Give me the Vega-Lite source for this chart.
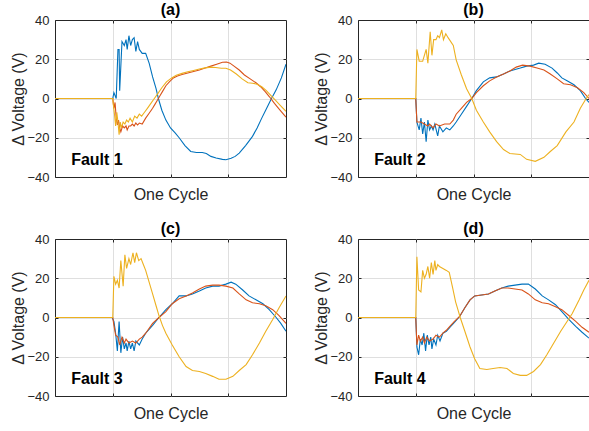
{
"$schema": "https://vega.github.io/schema/vega-lite/v6.json",
"padding": {"left": 10, "top": 1, "right": 0, "bottom": 0},
"background": "white",
"data": {"values": [
{"panel":"(a)","label":"Fault 1"},
{"panel":"(b)","label":"Fault 2"},
{"panel":"(c)","label":"Fault 3"},
{"panel":"(d)","label":"Fault 4"},
{"panel":"(a)","series":"A","x":0,"y":0},{"panel":"(a)","series":"A","x":1,"y":0},{"panel":"(a)","series":"A","x":1.02,"y":3},{"panel":"(a)","series":"A","x":1.06,"y":0},{"panel":"(a)","series":"A","x":1.09,"y":25},{"panel":"(a)","series":"A","x":1.11,"y":25},{"panel":"(a)","series":"A","x":1.12,"y":4},{"panel":"(a)","series":"A","x":1.16,"y":29},{"panel":"(a)","series":"A","x":1.2,"y":27},{"panel":"(a)","series":"A","x":1.23,"y":30},{"panel":"(a)","series":"A","x":1.25,"y":25},{"panel":"(a)","series":"A","x":1.28,"y":32},{"panel":"(a)","series":"A","x":1.31,"y":27},{"panel":"(a)","series":"A","x":1.34,"y":30},{"panel":"(a)","series":"A","x":1.37,"y":31},{"panel":"(a)","series":"A","x":1.4,"y":24},{"panel":"(a)","series":"A","x":1.43,"y":29},{"panel":"(a)","series":"A","x":1.46,"y":25},{"panel":"(a)","series":"A","x":1.51,"y":23},{"panel":"(a)","series":"A","x":1.57,"y":23},{"panel":"(a)","series":"A","x":1.63,"y":18},{"panel":"(a)","series":"A","x":1.69,"y":11},{"panel":"(a)","series":"A","x":1.75,"y":5},{"panel":"(a)","series":"A","x":1.79,"y":0},{"panel":"(a)","series":"A","x":1.85,"y":-6},{"panel":"(a)","series":"A","x":1.92,"y":-11},{"panel":"(a)","series":"A","x":2,"y":-15},{"panel":"(a)","series":"A","x":2.08,"y":-17.5},{"panel":"(a)","series":"A","x":2.15,"y":-20},{"panel":"(a)","series":"A","x":2.25,"y":-24},{"panel":"(a)","series":"A","x":2.35,"y":-27},{"panel":"(a)","series":"A","x":2.45,"y":-27.5},{"panel":"(a)","series":"A","x":2.55,"y":-27.5},{"panel":"(a)","series":"A","x":2.62,"y":-28},{"panel":"(a)","series":"A","x":2.7,"y":-29.5},{"panel":"(a)","series":"A","x":2.79,"y":-30.3},{"panel":"(a)","series":"A","x":2.9,"y":-31},{"panel":"(a)","series":"A","x":2.96,"y":-31.2},{"panel":"(a)","series":"A","x":3.05,"y":-30.5},{"panel":"(a)","series":"A","x":3.12,"y":-29.5},{"panel":"(a)","series":"A","x":3.19,"y":-27.8},{"panel":"(a)","series":"A","x":3.3,"y":-24},{"panel":"(a)","series":"A","x":3.42,"y":-19.3},{"panel":"(a)","series":"A","x":3.5,"y":-15},{"panel":"(a)","series":"A","x":3.58,"y":-10},{"panel":"(a)","series":"A","x":3.65,"y":-5.8},{"panel":"(a)","series":"A","x":3.74,"y":-0.5},{"panel":"(a)","series":"A","x":3.83,"y":4.4},{"panel":"(a)","series":"A","x":3.92,"y":10.5},{"panel":"(a)","series":"A","x":4,"y":17.5},
{"panel":"(a)","series":"B","x":0,"y":0},{"panel":"(a)","series":"B","x":1,"y":0},{"panel":"(a)","series":"B","x":1.02,"y":-5},{"panel":"(a)","series":"B","x":1.04,"y":-2},{"panel":"(a)","series":"B","x":1.06,"y":-10},{"panel":"(a)","series":"B","x":1.08,"y":-13.5},{"panel":"(a)","series":"B","x":1.1,"y":-11},{"panel":"(a)","series":"B","x":1.12,"y":-15},{"panel":"(a)","series":"B","x":1.14,"y":-17},{"panel":"(a)","series":"B","x":1.17,"y":-14},{"panel":"(a)","series":"B","x":1.2,"y":-15},{"panel":"(a)","series":"B","x":1.23,"y":-14},{"panel":"(a)","series":"B","x":1.25,"y":-16},{"panel":"(a)","series":"B","x":1.28,"y":-14},{"panel":"(a)","series":"B","x":1.31,"y":-14},{"panel":"(a)","series":"B","x":1.34,"y":-13},{"panel":"(a)","series":"B","x":1.37,"y":-14},{"panel":"(a)","series":"B","x":1.4,"y":-12.5},{"panel":"(a)","series":"B","x":1.43,"y":-13.5},{"panel":"(a)","series":"B","x":1.46,"y":-12.5},{"panel":"(a)","series":"B","x":1.51,"y":-13},{"panel":"(a)","series":"B","x":1.57,"y":-10},{"panel":"(a)","series":"B","x":1.63,"y":-7.5},{"panel":"(a)","series":"B","x":1.69,"y":-5},{"panel":"(a)","series":"B","x":1.73,"y":-3},{"panel":"(a)","series":"B","x":1.77,"y":-1},{"panel":"(a)","series":"B","x":1.82,"y":1.5},{"panel":"(a)","series":"B","x":1.86,"y":3.5},{"panel":"(a)","series":"B","x":1.92,"y":6.5},{"panel":"(a)","series":"B","x":1.98,"y":8.5},{"panel":"(a)","series":"B","x":2.05,"y":10.5},{"panel":"(a)","series":"B","x":2.12,"y":11.5},{"panel":"(a)","series":"B","x":2.2,"y":12.2},{"panel":"(a)","series":"B","x":2.3,"y":13},{"panel":"(a)","series":"B","x":2.4,"y":13.8},{"panel":"(a)","series":"B","x":2.5,"y":14.5},{"panel":"(a)","series":"B","x":2.6,"y":15.5},{"panel":"(a)","series":"B","x":2.7,"y":16.5},{"panel":"(a)","series":"B","x":2.8,"y":17.5},{"panel":"(a)","series":"B","x":2.9,"y":18.5},{"panel":"(a)","series":"B","x":2.97,"y":18.6},{"panel":"(a)","series":"B","x":3.03,"y":18},{"panel":"(a)","series":"B","x":3.1,"y":16.5},{"panel":"(a)","series":"B","x":3.19,"y":14.5},{"panel":"(a)","series":"B","x":3.28,"y":12},{"panel":"(a)","series":"B","x":3.38,"y":10},{"panel":"(a)","series":"B","x":3.48,"y":8},{"panel":"(a)","series":"B","x":3.56,"y":6},{"panel":"(a)","series":"B","x":3.64,"y":3.5},{"panel":"(a)","series":"B","x":3.71,"y":1},{"panel":"(a)","series":"B","x":3.8,"y":-2.5},{"panel":"(a)","series":"B","x":3.9,"y":-6},{"panel":"(a)","series":"B","x":4,"y":-9.5},
{"panel":"(a)","series":"C","x":0,"y":0},{"panel":"(a)","series":"C","x":1,"y":0},{"panel":"(a)","series":"C","x":1.01,"y":-3},{"panel":"(a)","series":"C","x":1.03,"y":-8},{"panel":"(a)","series":"C","x":1.05,"y":-14},{"panel":"(a)","series":"C","x":1.07,"y":-7},{"panel":"(a)","series":"C","x":1.09,"y":-12},{"panel":"(a)","series":"C","x":1.11,"y":-18.5},{"panel":"(a)","series":"C","x":1.13,"y":-12},{"panel":"(a)","series":"C","x":1.15,"y":-15},{"panel":"(a)","series":"C","x":1.18,"y":-12},{"panel":"(a)","series":"C","x":1.21,"y":-13},{"panel":"(a)","series":"C","x":1.24,"y":-11},{"panel":"(a)","series":"C","x":1.27,"y":-12},{"panel":"(a)","series":"C","x":1.3,"y":-10},{"panel":"(a)","series":"C","x":1.34,"y":-12},{"panel":"(a)","series":"C","x":1.38,"y":-9},{"panel":"(a)","series":"C","x":1.42,"y":-10},{"panel":"(a)","series":"C","x":1.46,"y":-8},{"panel":"(a)","series":"C","x":1.5,"y":-9},{"panel":"(a)","series":"C","x":1.55,"y":-7},{"panel":"(a)","series":"C","x":1.6,"y":-5},{"panel":"(a)","series":"C","x":1.66,"y":-2.5},{"panel":"(a)","series":"C","x":1.72,"y":0},{"panel":"(a)","series":"C","x":1.78,"y":2.5},{"panel":"(a)","series":"C","x":1.85,"y":5.5},{"panel":"(a)","series":"C","x":1.93,"y":8.5},{"panel":"(a)","series":"C","x":2.02,"y":10.5},{"panel":"(a)","series":"C","x":2.1,"y":11.8},{"panel":"(a)","series":"C","x":2.2,"y":12.8},{"panel":"(a)","series":"C","x":2.3,"y":13.6},{"panel":"(a)","series":"C","x":2.4,"y":14.3},{"panel":"(a)","series":"C","x":2.5,"y":15},{"panel":"(a)","series":"C","x":2.6,"y":15.6},{"panel":"(a)","series":"C","x":2.7,"y":16},{"panel":"(a)","series":"C","x":2.78,"y":15.8},{"panel":"(a)","series":"C","x":2.88,"y":15.4},{"panel":"(a)","series":"C","x":2.96,"y":15.4},{"panel":"(a)","series":"C","x":3.04,"y":14.5},{"panel":"(a)","series":"C","x":3.14,"y":12.5},{"panel":"(a)","series":"C","x":3.24,"y":10},{"panel":"(a)","series":"C","x":3.34,"y":8},{"panel":"(a)","series":"C","x":3.42,"y":7.8},{"panel":"(a)","series":"C","x":3.5,"y":7.3},{"panel":"(a)","series":"C","x":3.58,"y":6},{"panel":"(a)","series":"C","x":3.66,"y":4},{"panel":"(a)","series":"C","x":3.74,"y":1.5},{"panel":"(a)","series":"C","x":3.82,"y":-1},{"panel":"(a)","series":"C","x":3.9,"y":-3.5},{"panel":"(a)","series":"C","x":4,"y":-6.5},
{"panel":"(b)","series":"A","x":0,"y":0},{"panel":"(b)","series":"A","x":1,"y":0},{"panel":"(b)","series":"A","x":1.02,"y":-12},{"panel":"(b)","series":"A","x":1.06,"y":-16},{"panel":"(b)","series":"A","x":1.09,"y":-10},{"panel":"(b)","series":"A","x":1.12,"y":-18},{"panel":"(b)","series":"A","x":1.15,"y":-12},{"panel":"(b)","series":"A","x":1.18,"y":-22},{"panel":"(b)","series":"A","x":1.21,"y":-11},{"panel":"(b)","series":"A","x":1.24,"y":-16},{"panel":"(b)","series":"A","x":1.27,"y":-14},{"panel":"(b)","series":"A","x":1.3,"y":-16},{"panel":"(b)","series":"A","x":1.33,"y":-13},{"panel":"(b)","series":"A","x":1.38,"y":-19},{"panel":"(b)","series":"A","x":1.41,"y":-14},{"panel":"(b)","series":"A","x":1.47,"y":-17},{"panel":"(b)","series":"A","x":1.53,"y":-15},{"panel":"(b)","series":"A","x":1.59,"y":-16},{"panel":"(b)","series":"A","x":1.65,"y":-14},{"panel":"(b)","series":"A","x":1.7,"y":-12},{"panel":"(b)","series":"A","x":1.79,"y":-8},{"panel":"(b)","series":"A","x":1.88,"y":-4},{"panel":"(b)","series":"A","x":1.97,"y":0},{"panel":"(b)","series":"A","x":2.05,"y":4},{"panel":"(b)","series":"A","x":2.17,"y":8.5},{"panel":"(b)","series":"A","x":2.28,"y":10.5},{"panel":"(b)","series":"A","x":2.4,"y":11},{"panel":"(b)","series":"A","x":2.52,"y":12.5},{"panel":"(b)","series":"A","x":2.63,"y":14},{"panel":"(b)","series":"A","x":2.81,"y":15.5},{"panel":"(b)","series":"A","x":2.92,"y":16.5},{"panel":"(b)","series":"A","x":3.04,"y":17},{"panel":"(b)","series":"A","x":3.13,"y":18},{"panel":"(b)","series":"A","x":3.24,"y":17.5},{"panel":"(b)","series":"A","x":3.36,"y":15.5},{"panel":"(b)","series":"A","x":3.45,"y":13},{"panel":"(b)","series":"A","x":3.53,"y":10.5},{"panel":"(b)","series":"A","x":3.62,"y":9},{"panel":"(b)","series":"A","x":3.74,"y":7},{"panel":"(b)","series":"A","x":3.85,"y":4},{"panel":"(b)","series":"A","x":3.94,"y":0},{"panel":"(b)","series":"A","x":4,"y":-2},
{"panel":"(b)","series":"B","x":0,"y":0},{"panel":"(b)","series":"B","x":1,"y":0},{"panel":"(b)","series":"B","x":1.02,"y":-12},{"panel":"(b)","series":"B","x":1.09,"y":-12},{"panel":"(b)","series":"B","x":1.15,"y":-13},{"panel":"(b)","series":"B","x":1.21,"y":-14},{"panel":"(b)","series":"B","x":1.24,"y":-13},{"panel":"(b)","series":"B","x":1.3,"y":-15},{"panel":"(b)","series":"B","x":1.35,"y":-13},{"panel":"(b)","series":"B","x":1.41,"y":-14},{"panel":"(b)","series":"B","x":1.5,"y":-13},{"panel":"(b)","series":"B","x":1.59,"y":-13},{"panel":"(b)","series":"B","x":1.65,"y":-11},{"panel":"(b)","series":"B","x":1.7,"y":-8},{"panel":"(b)","series":"B","x":1.79,"y":-5},{"panel":"(b)","series":"B","x":1.88,"y":-2},{"panel":"(b)","series":"B","x":1.97,"y":0},{"panel":"(b)","series":"B","x":2.05,"y":3},{"panel":"(b)","series":"B","x":2.17,"y":6.5},{"panel":"(b)","series":"B","x":2.28,"y":9},{"panel":"(b)","series":"B","x":2.4,"y":11},{"panel":"(b)","series":"B","x":2.52,"y":12.5},{"panel":"(b)","series":"B","x":2.63,"y":14},{"panel":"(b)","series":"B","x":2.74,"y":16},{"panel":"(b)","series":"B","x":2.85,"y":17},{"panel":"(b)","series":"B","x":2.98,"y":16.5},{"panel":"(b)","series":"B","x":3.1,"y":15.5},{"panel":"(b)","series":"B","x":3.22,"y":14.5},{"panel":"(b)","series":"B","x":3.33,"y":12.5},{"panel":"(b)","series":"B","x":3.45,"y":10},{"panel":"(b)","series":"B","x":3.56,"y":7.5},{"panel":"(b)","series":"B","x":3.68,"y":7},{"panel":"(b)","series":"B","x":3.8,"y":5.5},{"panel":"(b)","series":"B","x":3.91,"y":3},{"panel":"(b)","series":"B","x":4,"y":0},
{"panel":"(b)","series":"C","x":0,"y":0},{"panel":"(b)","series":"C","x":1,"y":0},{"panel":"(b)","series":"C","x":1.02,"y":25},{"panel":"(b)","series":"C","x":1.06,"y":19},{"panel":"(b)","series":"C","x":1.12,"y":19},{"panel":"(b)","series":"C","x":1.18,"y":25},{"panel":"(b)","series":"C","x":1.21,"y":18},{"panel":"(b)","series":"C","x":1.25,"y":34},{"panel":"(b)","series":"C","x":1.28,"y":22},{"panel":"(b)","series":"C","x":1.31,"y":30},{"panel":"(b)","series":"C","x":1.35,"y":30},{"panel":"(b)","series":"C","x":1.38,"y":32},{"panel":"(b)","series":"C","x":1.41,"y":31},{"panel":"(b)","series":"C","x":1.45,"y":35},{"panel":"(b)","series":"C","x":1.48,"y":30},{"panel":"(b)","series":"C","x":1.52,"y":33},{"panel":"(b)","series":"C","x":1.56,"y":31},{"panel":"(b)","series":"C","x":1.65,"y":27},{"panel":"(b)","series":"C","x":1.7,"y":19.7},{"panel":"(b)","series":"C","x":1.79,"y":12},{"panel":"(b)","series":"C","x":1.88,"y":5},{"panel":"(b)","series":"C","x":1.97,"y":0},{"panel":"(b)","series":"C","x":2.05,"y":-6},{"panel":"(b)","series":"C","x":2.17,"y":-12},{"panel":"(b)","series":"C","x":2.28,"y":-17},{"panel":"(b)","series":"C","x":2.4,"y":-22},{"panel":"(b)","series":"C","x":2.52,"y":-26},{"panel":"(b)","series":"C","x":2.63,"y":-28},{"panel":"(b)","series":"C","x":2.81,"y":-28.5},{"panel":"(b)","series":"C","x":2.92,"y":-31},{"panel":"(b)","series":"C","x":3.07,"y":-32},{"panel":"(b)","series":"C","x":3.22,"y":-30},{"panel":"(b)","series":"C","x":3.33,"y":-27},{"panel":"(b)","series":"C","x":3.45,"y":-24},{"panel":"(b)","series":"C","x":3.6,"y":-17},{"panel":"(b)","series":"C","x":3.74,"y":-12},{"panel":"(b)","series":"C","x":3.85,"y":-5},{"panel":"(b)","series":"C","x":3.93,"y":-1},{"panel":"(b)","series":"C","x":4,"y":2},
{"panel":"(c)","series":"A","x":0,"y":0},{"panel":"(c)","series":"A","x":0.99,"y":0},{"panel":"(c)","series":"A","x":1.02,"y":-2},{"panel":"(c)","series":"A","x":1.05,"y":-8},{"panel":"(c)","series":"A","x":1.08,"y":-17},{"panel":"(c)","series":"A","x":1.11,"y":-2},{"panel":"(c)","series":"A","x":1.14,"y":-18},{"panel":"(c)","series":"A","x":1.17,"y":-10},{"panel":"(c)","series":"A","x":1.2,"y":-16},{"panel":"(c)","series":"A","x":1.23,"y":-13},{"panel":"(c)","series":"A","x":1.25,"y":-17},{"panel":"(c)","series":"A","x":1.28,"y":-12},{"panel":"(c)","series":"A","x":1.31,"y":-16},{"panel":"(c)","series":"A","x":1.34,"y":-13},{"panel":"(c)","series":"A","x":1.37,"y":-17},{"panel":"(c)","series":"A","x":1.4,"y":-12},{"panel":"(c)","series":"A","x":1.46,"y":-14},{"panel":"(c)","series":"A","x":1.51,"y":-11},{"panel":"(c)","series":"A","x":1.57,"y":-8},{"panel":"(c)","series":"A","x":1.69,"y":-4},{"panel":"(c)","series":"A","x":1.8,"y":0},{"panel":"(c)","series":"A","x":1.92,"y":4},{"panel":"(c)","series":"A","x":2.03,"y":7},{"panel":"(c)","series":"A","x":2.15,"y":11},{"panel":"(c)","series":"A","x":2.27,"y":11},{"panel":"(c)","series":"A","x":2.38,"y":12},{"panel":"(c)","series":"A","x":2.5,"y":13.5},{"panel":"(c)","series":"A","x":2.61,"y":15},{"panel":"(c)","series":"A","x":2.73,"y":16},{"panel":"(c)","series":"A","x":2.84,"y":16},{"panel":"(c)","series":"A","x":2.96,"y":17},{"panel":"(c)","series":"A","x":3.05,"y":18},{"panel":"(c)","series":"A","x":3.13,"y":17},{"panel":"(c)","series":"A","x":3.25,"y":14},{"panel":"(c)","series":"A","x":3.36,"y":11},{"panel":"(c)","series":"A","x":3.48,"y":9},{"panel":"(c)","series":"A","x":3.6,"y":7},{"panel":"(c)","series":"A","x":3.71,"y":4},{"panel":"(c)","series":"A","x":3.83,"y":0},{"panel":"(c)","series":"A","x":3.91,"y":-3},{"panel":"(c)","series":"A","x":4,"y":-7},
{"panel":"(c)","series":"B","x":0,"y":0},{"panel":"(c)","series":"B","x":1,"y":0},{"panel":"(c)","series":"B","x":1.02,"y":-4},{"panel":"(c)","series":"B","x":1.05,"y":-9},{"panel":"(c)","series":"B","x":1.09,"y":-10},{"panel":"(c)","series":"B","x":1.12,"y":-14},{"panel":"(c)","series":"B","x":1.16,"y":-10},{"panel":"(c)","series":"B","x":1.2,"y":-13},{"panel":"(c)","series":"B","x":1.23,"y":-11},{"panel":"(c)","series":"B","x":1.28,"y":-13},{"panel":"(c)","series":"B","x":1.34,"y":-12},{"panel":"(c)","series":"B","x":1.4,"y":-13},{"panel":"(c)","series":"B","x":1.46,"y":-11},{"panel":"(c)","series":"B","x":1.51,"y":-10},{"panel":"(c)","series":"B","x":1.57,"y":-8},{"panel":"(c)","series":"B","x":1.69,"y":-3},{"panel":"(c)","series":"B","x":1.8,"y":0},{"panel":"(c)","series":"B","x":1.92,"y":3},{"panel":"(c)","series":"B","x":2.03,"y":7},{"panel":"(c)","series":"B","x":2.15,"y":9.5},{"panel":"(c)","series":"B","x":2.27,"y":11},{"panel":"(c)","series":"B","x":2.38,"y":12.5},{"panel":"(c)","series":"B","x":2.5,"y":14.5},{"panel":"(c)","series":"B","x":2.61,"y":16},{"panel":"(c)","series":"B","x":2.73,"y":16.5},{"panel":"(c)","series":"B","x":2.84,"y":16.5},{"panel":"(c)","series":"B","x":2.96,"y":16},{"panel":"(c)","series":"B","x":3.08,"y":15},{"panel":"(c)","series":"B","x":3.19,"y":12},{"panel":"(c)","series":"B","x":3.31,"y":9},{"panel":"(c)","series":"B","x":3.42,"y":7.5},{"panel":"(c)","series":"B","x":3.54,"y":7},{"panel":"(c)","series":"B","x":3.65,"y":6},{"panel":"(c)","series":"B","x":3.77,"y":4},{"panel":"(c)","series":"B","x":3.88,"y":1},{"panel":"(c)","series":"B","x":4,"y":-3},
{"panel":"(c)","series":"C","x":0,"y":0},{"panel":"(c)","series":"C","x":1,"y":0},{"panel":"(c)","series":"C","x":1.02,"y":21},{"panel":"(c)","series":"C","x":1.05,"y":17},{"panel":"(c)","series":"C","x":1.08,"y":19},{"panel":"(c)","series":"C","x":1.11,"y":15},{"panel":"(c)","series":"C","x":1.14,"y":29},{"panel":"(c)","series":"C","x":1.18,"y":16},{"panel":"(c)","series":"C","x":1.21,"y":32},{"panel":"(c)","series":"C","x":1.24,"y":25},{"panel":"(c)","series":"C","x":1.28,"y":30},{"panel":"(c)","series":"C","x":1.31,"y":27},{"panel":"(c)","series":"C","x":1.35,"y":33},{"panel":"(c)","series":"C","x":1.38,"y":28},{"panel":"(c)","series":"C","x":1.41,"y":33},{"panel":"(c)","series":"C","x":1.45,"y":29},{"panel":"(c)","series":"C","x":1.49,"y":30},{"panel":"(c)","series":"C","x":1.53,"y":27},{"panel":"(c)","series":"C","x":1.57,"y":24},{"panel":"(c)","series":"C","x":1.63,"y":18},{"panel":"(c)","series":"C","x":1.69,"y":12},{"panel":"(c)","series":"C","x":1.75,"y":6},{"panel":"(c)","series":"C","x":1.8,"y":1},{"panel":"(c)","series":"C","x":1.86,"y":-4},{"panel":"(c)","series":"C","x":1.92,"y":-8},{"panel":"(c)","series":"C","x":2.03,"y":-14},{"panel":"(c)","series":"C","x":2.15,"y":-20},{"panel":"(c)","series":"C","x":2.27,"y":-25},{"panel":"(c)","series":"C","x":2.38,"y":-27},{"panel":"(c)","series":"C","x":2.5,"y":-27.5},{"panel":"(c)","series":"C","x":2.61,"y":-28.5},{"panel":"(c)","series":"C","x":2.73,"y":-30},{"panel":"(c)","series":"C","x":2.84,"y":-31.5},{"panel":"(c)","series":"C","x":2.96,"y":-31.5},{"panel":"(c)","series":"C","x":3.08,"y":-30},{"panel":"(c)","series":"C","x":3.19,"y":-27},{"panel":"(c)","series":"C","x":3.31,"y":-24},{"panel":"(c)","series":"C","x":3.42,"y":-19},{"panel":"(c)","series":"C","x":3.54,"y":-13},{"panel":"(c)","series":"C","x":3.65,"y":-7},{"panel":"(c)","series":"C","x":3.77,"y":-1},{"panel":"(c)","series":"C","x":3.88,"y":5},{"panel":"(c)","series":"C","x":4,"y":11},
{"panel":"(d)","series":"A","x":0,"y":0},{"panel":"(d)","series":"A","x":1,"y":0},{"panel":"(d)","series":"A","x":1.02,"y":-15},{"panel":"(d)","series":"A","x":1.05,"y":-19},{"panel":"(d)","series":"A","x":1.08,"y":-11},{"panel":"(d)","series":"A","x":1.11,"y":-14},{"panel":"(d)","series":"A","x":1.14,"y":-8},{"panel":"(d)","series":"A","x":1.17,"y":-17},{"panel":"(d)","series":"A","x":1.2,"y":-9},{"panel":"(d)","series":"A","x":1.23,"y":-14},{"panel":"(d)","series":"A","x":1.26,"y":-10},{"panel":"(d)","series":"A","x":1.28,"y":-16},{"panel":"(d)","series":"A","x":1.31,"y":-11},{"panel":"(d)","series":"A","x":1.35,"y":-14},{"panel":"(d)","series":"A","x":1.38,"y":-9},{"panel":"(d)","series":"A","x":1.42,"y":-12},{"panel":"(d)","series":"A","x":1.47,"y":-8},{"panel":"(d)","series":"A","x":1.53,"y":-7},{"panel":"(d)","series":"A","x":1.59,"y":-5},{"panel":"(d)","series":"A","x":1.67,"y":-2.5},{"panel":"(d)","series":"A","x":1.76,"y":0.5},{"panel":"(d)","series":"A","x":1.85,"y":5},{"panel":"(d)","series":"A","x":1.94,"y":9},{"panel":"(d)","series":"A","x":2.02,"y":11},{"panel":"(d)","series":"A","x":2.14,"y":11.5},{"panel":"(d)","series":"A","x":2.26,"y":12},{"panel":"(d)","series":"A","x":2.37,"y":13.5},{"panel":"(d)","series":"A","x":2.49,"y":15},{"panel":"(d)","series":"A","x":2.6,"y":16},{"panel":"(d)","series":"A","x":2.72,"y":16.5},{"panel":"(d)","series":"A","x":2.84,"y":17},{"panel":"(d)","series":"A","x":2.95,"y":17},{"panel":"(d)","series":"A","x":3.07,"y":14.5},{"panel":"(d)","series":"A","x":3.19,"y":11},{"panel":"(d)","series":"A","x":3.3,"y":9},{"panel":"(d)","series":"A","x":3.42,"y":6.5},{"panel":"(d)","series":"A","x":3.53,"y":3},{"panel":"(d)","series":"A","x":3.65,"y":-1},{"panel":"(d)","series":"A","x":3.77,"y":-4.5},{"panel":"(d)","series":"A","x":3.88,"y":-7.5},{"panel":"(d)","series":"A","x":4,"y":-10.5},
{"panel":"(d)","series":"B","x":0,"y":0},{"panel":"(d)","series":"B","x":1,"y":0},{"panel":"(d)","series":"B","x":1.02,"y":-14},{"panel":"(d)","series":"B","x":1.05,"y":-9},{"panel":"(d)","series":"B","x":1.08,"y":-12},{"panel":"(d)","series":"B","x":1.12,"y":-10},{"panel":"(d)","series":"B","x":1.15,"y":-13},{"panel":"(d)","series":"B","x":1.19,"y":-10},{"panel":"(d)","series":"B","x":1.24,"y":-12},{"panel":"(d)","series":"B","x":1.3,"y":-11},{"panel":"(d)","series":"B","x":1.35,"y":-9},{"panel":"(d)","series":"B","x":1.41,"y":-10},{"panel":"(d)","series":"B","x":1.47,"y":-8},{"panel":"(d)","series":"B","x":1.53,"y":-6.5},{"panel":"(d)","series":"B","x":1.59,"y":-4.5},{"panel":"(d)","series":"B","x":1.67,"y":-2},{"panel":"(d)","series":"B","x":1.76,"y":0.5},{"panel":"(d)","series":"B","x":1.85,"y":5},{"panel":"(d)","series":"B","x":1.94,"y":9},{"panel":"(d)","series":"B","x":2.02,"y":11},{"panel":"(d)","series":"B","x":2.14,"y":11.5},{"panel":"(d)","series":"B","x":2.26,"y":12},{"panel":"(d)","series":"B","x":2.37,"y":13.5},{"panel":"(d)","series":"B","x":2.49,"y":15},{"panel":"(d)","series":"B","x":2.6,"y":15},{"panel":"(d)","series":"B","x":2.72,"y":14.5},{"panel":"(d)","series":"B","x":2.84,"y":14},{"panel":"(d)","series":"B","x":2.95,"y":12},{"panel":"(d)","series":"B","x":3.07,"y":9},{"panel":"(d)","series":"B","x":3.19,"y":7.5},{"panel":"(d)","series":"B","x":3.3,"y":7},{"panel":"(d)","series":"B","x":3.42,"y":5.5},{"panel":"(d)","series":"B","x":3.53,"y":4},{"panel":"(d)","series":"B","x":3.65,"y":1},{"panel":"(d)","series":"B","x":3.77,"y":-2},{"panel":"(d)","series":"B","x":3.88,"y":-5},{"panel":"(d)","series":"B","x":4,"y":-7.5},
{"panel":"(d)","series":"C","x":0,"y":0},{"panel":"(d)","series":"C","x":1,"y":0},{"panel":"(d)","series":"C","x":1.02,"y":31},{"panel":"(d)","series":"C","x":1.05,"y":14},{"panel":"(d)","series":"C","x":1.09,"y":13},{"panel":"(d)","series":"C","x":1.12,"y":24},{"panel":"(d)","series":"C","x":1.15,"y":20},{"panel":"(d)","series":"C","x":1.18,"y":22},{"panel":"(d)","series":"C","x":1.21,"y":26},{"panel":"(d)","series":"C","x":1.24,"y":20},{"panel":"(d)","series":"C","x":1.27,"y":28},{"panel":"(d)","series":"C","x":1.3,"y":22},{"panel":"(d)","series":"C","x":1.33,"y":29},{"panel":"(d)","series":"C","x":1.35,"y":24},{"panel":"(d)","series":"C","x":1.38,"y":27},{"panel":"(d)","series":"C","x":1.41,"y":26},{"panel":"(d)","series":"C","x":1.47,"y":25},{"panel":"(d)","series":"C","x":1.53,"y":24},{"panel":"(d)","series":"C","x":1.58,"y":23},{"panel":"(d)","series":"C","x":1.64,"y":15},{"panel":"(d)","series":"C","x":1.69,"y":8},{"panel":"(d)","series":"C","x":1.73,"y":4},{"panel":"(d)","series":"C","x":1.77,"y":0},{"panel":"(d)","series":"C","x":1.85,"y":-7},{"panel":"(d)","series":"C","x":1.94,"y":-15},{"panel":"(d)","series":"C","x":2.02,"y":-21},{"panel":"(d)","series":"C","x":2.11,"y":-26},{"panel":"(d)","series":"C","x":2.23,"y":-26.5},{"panel":"(d)","series":"C","x":2.34,"y":-26},{"panel":"(d)","series":"C","x":2.46,"y":-25.5},{"panel":"(d)","series":"C","x":2.58,"y":-26},{"panel":"(d)","series":"C","x":2.69,"y":-28.5},{"panel":"(d)","series":"C","x":2.81,"y":-29.5},{"panel":"(d)","series":"C","x":2.92,"y":-29.5},{"panel":"(d)","series":"C","x":3.04,"y":-27.5},{"panel":"(d)","series":"C","x":3.16,"y":-24},{"panel":"(d)","series":"C","x":3.27,"y":-19},{"panel":"(d)","series":"C","x":3.39,"y":-13},{"panel":"(d)","series":"C","x":3.51,"y":-7},{"panel":"(d)","series":"C","x":3.62,"y":-2},{"panel":"(d)","series":"C","x":3.71,"y":2},{"panel":"(d)","series":"C","x":3.83,"y":9},{"panel":"(d)","series":"C","x":3.91,"y":14},{"panel":"(d)","series":"C","x":4,"y":19}
]},
"facet": {"field": "panel", "type": "nominal", "header": {"title": null, "labelFont": "Liberation Sans", "labelFontSize": 16, "labelFontWeight": "bold", "labelColor": "#000000", "labelPadding": -4}},
"columns": 2,
"spacing": {"row": 17, "column": 26},
"resolve": {"axis": {"x": "independent", "y": "independent"}},
"spec": {
  "width": 231,
  "height": 157,
  "resolve": {"axis": {"x": "independent", "y": "independent"}},
  "layer": [
    {
      "transform": [{"filter": "isValid(datum.series)"}],
      "mark": {"type": "line", "strokeWidth": 1.1, "clip": true},
      "encoding": {
        "x": {"field": "x", "type": "quantitative", "scale": {"domain": [0, 4], "nice": false}, "axis": {"orient": "bottom", "values": [1, 2, 3], "labels": false, "title": "One Cycle", "titlePadding": 9}},
        "y": {"field": "y", "type": "quantitative", "scale": {"domain": [-40, 40], "nice": false}, "axis": {"orient": "left", "values": [-40, -20, 0, 20, 40], "labelOverlap": false, "title": "Δ Voltage (V)", "titlePadding": 0, "gridOpacity": {"condition": {"test": "abs(datum.value) >= 40", "value": 0}, "value": 1}}},
        "color": {"field": "series", "type": "nominal", "legend": null, "scale": {"domain": ["A", "B", "C"], "range": ["#0072BD", "#D95319", "#EDB120"]}}
      }
    },
    {
      "transform": [{"filter": "isValid(datum.label)"}],
      "mark": {"type": "text", "align": "left", "baseline": "alphabetic", "font": "Liberation Sans", "fontSize": 16, "fontWeight": "bold", "color": "#000000"},
      "encoding": {
        "x": {"datum": 0.28, "type": "quantitative", "axis": {"orient": "top", "values": [1, 2, 3], "labels": false, "title": null, "grid": false}},
        "y": {"datum": -34, "type": "quantitative", "axis": {"orient": "right", "values": [-20, 0, 20], "labels": false, "title": null, "grid": false}},
        "text": {"field": "label"}
      }
    }
  ]
},
"config": {
  "view": {"stroke": "#262626", "strokeWidth": 1},
  "axis": {
    "domain": false,
    "grid": true,
    "gridColor": "#dfdfdf",
    "gridWidth": 1,
    "ticks": true,
    "tickColor": "#262626",
    "tickSize": -3,
    "labelFont": "Liberation Sans",
    "labelFontSize": 13,
    "labelColor": "#262626",
    "labelPadding": 9,
    "titleFont": "Liberation Sans",
    "titleFontSize": 16,
    "titleFontWeight": "normal",
    "titleColor": "#262626"
  }
}
}
